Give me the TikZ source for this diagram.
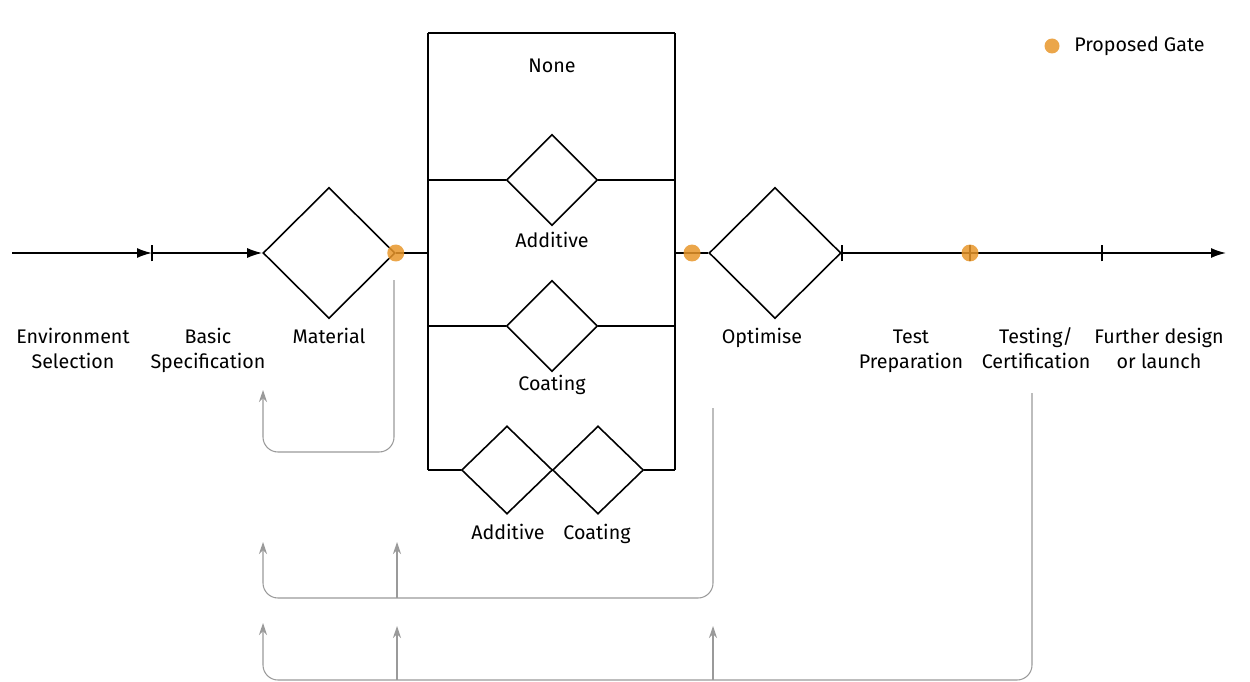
\documentclass[tikz,border=0pt]{standalone}
\usepackage{fontspec}
\setmainfont{Fira Sans}
\usetikzlibrary{arrows.meta,shapes.geometric}
\definecolor{gate}{HTML}{E8962A}
\definecolor{loopgray}{HTML}{9A9A9A}
\tikzset{
  flow/.style={line width=0.9pt,black},
  dia/.style={shape=diamond,draw,line width=0.9pt,aspect=1,inner sep=0pt},
  bigdia/.style={dia,minimum width=2.64cm,minimum height=2.62cm},
  smalldia/.style={dia,minimum width=1.82cm,minimum height=1.82cm},
  lowdia/.style={dia,minimum width=1.82cm,minimum height=1.76cm},
  lbl/.style={align=center,font=\fontsize{11.2}{14.2}\selectfont,inner sep=0pt},
  steplbl/.style={lbl,anchor=north},
  baselbl/.style={lbl,anchor=base},
  gatedot/.style={circle,fill=gate,minimum size=0.34cm,inner sep=0pt,opacity=0.85},
  fb/.style={loopgray,line width=0.6pt,rounded corners=0.3cm},
  fbarrow/.style={fb,-{Stealth[length=2.4mm,width=1.6mm]}},
  tickmark/.style={line width=0.9pt},
  tip/.style={-{Latex[length=3mm,width=2mm]}}
}
\begin{document}
\begin{tikzpicture}[x=0.02cm,y=-0.02cm]
\useasboundingbox (0,0) rectangle (1250,682);
% box of branches
\coordinate (btl) at (428,33);
\coordinate (btr) at (675,33);
\coordinate (bbl) at (428,470);
\coordinate (bbr) at (675,470);
\coordinate (bml) at (428,253);
\coordinate (bmr) at (675,253);
\draw[line width=1.6pt] (btl) -- (btr);
\draw[flow] (btl) -- (bbl);
\draw[flow] (btr) -- (bbr);
% diamonds
\node[bigdia] (mat) at (329,253) {};
\node[bigdia] (opt) at (775,253) {};
\node[smalldia] (add) at (552,180) {};
\node[smalldia] (coat) at (552,326) {};
\node[lowdia] (add2) at (507,470) {};
\node[lowdia] (coat2) at (598,470) {};
\coordinate (a1) at (428,180); \coordinate (a2) at (675,180);
\coordinate (c1) at (428,326); \coordinate (c2) at (675,326);
\draw[flow] (a1) -- (add.west);
\draw[flow] (add.east) -- (a2);
\draw[flow] (c1) -- (coat.west);
\draw[flow] (coat.east) -- (c2);
\draw[flow] (bbl) -- (add2.west);
\draw[flow] (coat2.east) -- (bbr);
% main line
\coordinate (start) at (12,253);
\coordinate (t1) at (152,253);
\coordinate (t3) at (970,253);
\coordinate (t4) at (1102,253);
\coordinate (end) at (1226,253);
\draw[flow,tip] (start) -- (t1);
\draw[flow,tip] (t1) -- (mat.west);
\draw[flow] (mat.east) -- (bml);
\draw[flow] (bmr) -- (opt.west);
\draw[flow,tip] (opt.east) -- (end);
\foreach \c in {t1,opt.east,t3,t4}{
  \draw[tickmark] ([yshift=-0.17cm]\c) -- ([yshift=0.17cm]\c);
}
% gates
\node[gatedot] (g1) at (mat.east) {};
\node[gatedot] (g2) at (692,253) {};
\node[gatedot] (g3) at (t3) {};
\node[gatedot,minimum size=0.3cm] (g4) at (1052,46) {};
\node[lbl,anchor=west] (leg) at (1074,46) {Proposed Gate};
% labels
\node[steplbl] (lenv) at (73,326) {\strut Environment\\\strut Selection};
\node[steplbl] (lbas) at (208,326) {\strut Basic\\\strut Specification};
\node[steplbl] (lmat) at (329,326) {\strut Material};
\node[baselbl] (lnone) at (552,73) {None};
\node[baselbl] (ladd) at (552,247) {Additive};
\node[baselbl] (lcoat) at (552,390) {Coating};
\node[baselbl] (ladd2) at (508,539) {Additive};
\node[baselbl] (lcoat2) at (597,539) {Coating};
\node[steplbl] (lopt) at (762,326) {\strut Optimise};
\node[steplbl] (ltp) at (911,326) {\strut Test\\\strut Preparation};
\node[steplbl] (ltc) at (1036,326) {\strut Testing/\\\strut Certification};
\node[steplbl] (lfd) at (1159,326) {\strut Further design\\\strut or launch};
% feedback loops
\coordinate (f1s) at (394,280);
\coordinate (f1e) at (263,390);
\draw[fbarrow] (f1s) -- (394,452) -- (263,452) -- (f1e);
\coordinate (f2s) at (713,408);
\coordinate (f2e) at (263,542);
\coordinate (f2m) at (397,542);
\draw[fbarrow] (f2s) -- (713,598) -- (263,598) -- (f2e);
\draw[fbarrow] (397,598) -- (f2m);
\coordinate (f3s) at (1032,393);
\coordinate (f3e) at (263,623);
\coordinate (f3m) at (397,626);
\coordinate (f3n) at (713,626);
\draw[fbarrow] (f3s) -- (1032,680) -- (263,680) -- (f3e);
\draw[fbarrow] (397,680) -- (f3m);
\draw[fbarrow] (713,680) -- (f3n);
\end{tikzpicture}
\end{document}
